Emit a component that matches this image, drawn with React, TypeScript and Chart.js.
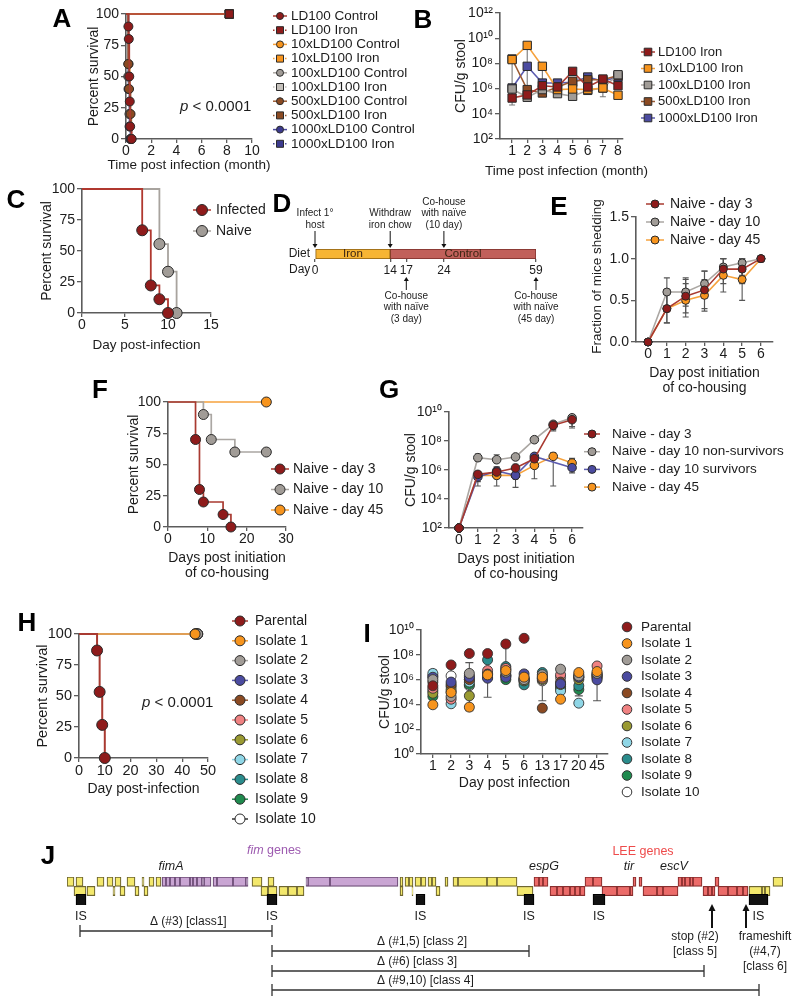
import React, { useEffect, useRef } from 'react';
import { Chart, registerables, LinearScale } from 'chart.js';

Chart.register(...registerables);

const W = 800;
const H = 1003;
const FONT = '"Liberation Sans", Arial, Helvetica, sans-serif';
const AXIS = '#5c5c5c';
const TXT = '#1c1c1c';
const EDGE = '#2a2a2a';

// ---------------- Panel A
const aGroups = ['LD100 Control', 'LD100 Iron', '10xLD100 Control', '10xLD100 Iron', '100xLD100 Control', '100xLD100 Iron', '500xLD100 Control', '500xLD100 Iron', '1000xLD100 Control', '1000xLD100 Iron'];
const aTime = [
  [0, 0.19, 0.22, 0.26, 0.3, 0.33, 0.45],
  [0, 8.2],
  [0, 0.2, 0.3, 0.4],
  [0, 8.2],
  [0, 0.18, 0.28, 0.38],
  [0, 8.2],
  [0, 0.18, 0.24, 0.36, 0.42],
  [0, 8.2],
  [0, 0.2, 0.28, 0.35],
  [0, 8.2],
];
const aSurv = [
  [100, 90, 80, 50, 30, 10, 0],
  [100, 100],
  [100, 60, 20, 0],
  [100, 100],
  [100, 50, 20, 0],
  [100, 100],
  [100, 60, 40, 20, 0],
  [100, 100],
  [100, 40, 10, 0],
  [100, 100],
];
const aTicksX = [0, 2, 4, 6, 8, 10];
const survTicks = [0, 25, 50, 75, 100];

// ---------------- Panel B (log10 CFU/g)
const bGroups = ['LD100 Iron', '10xLD100 Iron', '100xLD100 Iron', '500xLD100 Iron', '1000xLD100 Iron'];
const bMonths = [1, 2, 3, 4, 5, 6, 7, 8];
const bLogCfu = [
  [5.25, 5.5, 6.23, 6.13, 7.37, 6.13, 6.76, 6.23],
  [8.3, 9.43, 7.77, 5.92, 5.97, 5.92, 6.05, 5.47],
  [5.97, 5.31, 5.92, 5.6, 5.39, 5.86, 6.05, 7.1],
  [8.35, 5.92, 5.65, 6.13, 6.58, 6.7, 6.7, 7.03],
  [6.05, 7.77, 6.44, 6.44, 6.5, 6.92, 6.58, 6.92],
];
const bErrLo = [4.7, 5.3, 5.6, null, null, null, 5.35, 6.0];
const bErrHi = [8.4, 9.4, 7.7, null, null, null, 6.8, 7.2];
const bTicksY = [2, 4, 6, 8, 10, 12];

// ---------------- Panel C
const cGroups = ['Infected', 'Naive'];
const cTime = [[0, 7, 8, 9, 10], [0, 9, 10, 11]];
const cSurv = [[100, 66.7, 22.2, 11.1, 0], [100, 55.6, 33.3, 0]];
const cTicksX = [0, 5, 10, 15];

// ---------------- Panel D
const dDays = [0, 14, 17, 24, 59];
const dDiet = ['Iron', 'Control'];
const dDietSpan = [[0, 14], [14, 59]];
const dTopDays = [0, 14, 24];
const dTopText = [['Infect 1°', 'host'], ['Withdraw', 'iron chow'], ['Co-house', 'with naïve', '(10 day)']];
const dBotDays = [17, 59];
const dBotText = [['Co-house', 'with naïve', '(3 day)'], ['Co-house', 'with naïve', '(45 day)']];

// ---------------- Panel E
const eGroups = ['Naive - day 3', 'Naive - day 10', 'Naive - day 45'];
const eDays = [0, 1, 2, 3, 4, 5, 6];
const eFraction = [
  [0, 0.4, 0.55, 0.625, 0.875, 0.875, 1],
  [0, 0.6, 0.6, 0.7, 0.9, 0.95, 1],
  [0, 0.4, 0.5, 0.56, 0.8, 0.75, 1],
];
const eErrLo = [
  [null, 0.23, 0.35, 0.4, 0.7, 0.7, null],
  [null, 0.43, 0.43, 0.55, 0.78, 0.8, null],
  [null, 0.23, 0.3, 0.37, 0.6, 0.5, null],
];
const eErrHi = [
  [null, 0.57, 0.75, 0.85, 1.0, 1.0, null],
  [null, 0.77, 0.77, 0.85, 1.0, 1.0, null],
  [null, 0.57, 0.7, 0.75, 1.0, 1.0, null],
];
const eTicksY = [0, 0.5, 1, 1.5];

// ---------------- Panel F
const fGroups = ['Naive - day 3', 'Naive - day 10', 'Naive - day 45'];
const fTime = [[0, 7, 8, 9, 14, 16], [0, 9, 11, 17, 25], [0, 25]];
const fSurv = [[100, 70, 30, 20, 10, 0], [100, 90, 70, 60, 60], [100, 100]];
const fTicksX = [0, 10, 20, 30];

// ---------------- Panel G (log10 CFU/g)
const gGroups = ['Naive - day 3', 'Naive - day 10 non-survivors', 'Naive - day 10 survivors', 'Naive - day 45'];
const gDays = [0, 1, 2, 3, 4, 5, 6];
const gLogCfu = [
  [2, 5.7, 5.86, 6.14, 6.78, 9.08, 9.47],
  [2, 6.85, 6.71, 6.9, 8.09, 9.15, 9.6],
  [2, 5.52, 5.93, 5.63, 6.94, null, 6.16],
  [2, 5.63, 5.63, 5.63, 6.32, 6.94, 6.48],
];
const gErrLo = [
  [null, 4.9, 4.9, 4.8, 5.4, 8.7, 8.9],
  [null, 6.6, 6.5, 6.7, 7.9, 8.8, 9.0],
  [null, 5.2, 5.6, 5.4, 6.7, null, 5.8],
  [null, 5.4, 5.4, 5.4, 6.1, 4.9, 6.2],
];
const gErrHi = [
  [null, 5.9, 6.2, 6.4, 7.0, 9.3, 9.7],
  [null, 7.1, 7.05, 7.0, 8.3, 9.3, 9.8],
  [null, 5.8, 6.2, 5.9, 7.1, null, 6.4],
  [null, 5.9, 5.9, 5.9, 6.5, 7.2, 6.8],
];
const gTicksY = [2, 4, 6, 8, 10];

// ---------------- Panel H
const hGroups = ['Parental', 'Isolate 1', 'Isolate 2', 'Isolate 3', 'Isolate 4', 'Isolate 5', 'Isolate 6', 'Isolate 7', 'Isolate 8', 'Isolate 9', 'Isolate 10'];
const hParTime = [0, 7, 8, 9, 10];
const hParSurv = [100, 86.7, 53.3, 26.7, 0];
const hIsoEnd = [45, 46, 46, 45.5, 45, 45.5, 46, 45, 45.5, 46];
const hTicksX = [0, 10, 20, 30, 40, 50];

// ---------------- Panel I (log10 CFU/g)
const iDays = ['1', '2', '3', '4', '5', '6', '13', '17', '20', '45'];
const iLogCfu = [
  [5.5, 7.18, 8.1, 8.1, 8.87, 9.33, null, null, null, null],
  [3.97, 4.96, 3.78, 6.38, 6.73, 6.2, 6.2, 4.42, 6.57, 6.65],
  [6.0, 4.64, 6.5, 6.4, 6.6, 6.0, 6.4, 6.84, 6.3, 6.5],
  [6.19, 5.8, 6.19, 6.11, 6.19, 6.46, 6.3, 5.66, 6.19, 5.98],
  [5.8, 5.6, 6.0, 6.45, 6.3, 6.1, 3.7, 5.8, 6.4, 6.3],
  [5.3, 4.42, 6.3, 6.73, 6.9, 6.1, 6.1, 6.38, 6.2, 7.1],
  [4.9, 5.2, 4.69, 6.2, 6.4, 5.9, 6.0, 5.6, 6.0, 6.2],
  [6.5, 4.05, 5.8, 6.3, 6.8, 6.0, 6.2, 5.09, 4.1, 6.4],
  [5.1, 5.44, 6.0, 7.59, 7.05, 5.58, 6.57, 5.44, 5.5, 6.3],
  [4.64, 5.0, 5.6, 6.2, 6.0, 5.8, 6.1, 5.3, 5.2, 6.1],
  [6.3, 6.3, 5.5, 6.5, 6.3, 5.92, 5.9, 6.17, 6.2, 6.46],
];
const iErrLo = [4.8, 6.0, 3.5, 4.58, 5.8, null, 4.29, 4.37, 4.69, 4.3];
const iErrHi = [6.8, 7.3, 7.37, 6.5, 9.14, null, 6.6, 7.1, 6.6, 7.18];
const iTicksY = [0, 2, 4, 6, 8, 10];

// ---------------- Panel J (genome coordinate, kb)
const jYellowTop = [[0, 0.7], [0.9, 1.6], [3.0, 3.7], [4.0, 4.6], [4.8, 5.4], [6.0, 6.8], [7.5, 7.7], [8.2, 8.7], [8.9, 9.4], [18.5, 19.5], [20.1, 20.7], [33.3, 33.6], [33.8, 34.2], [34.2, 34.6], [34.8, 35.4], [35.4, 35.9], [36.1, 36.5], [36.5, 36.9], [37.8, 38.1], [38.6, 39.1], [39.1, 42.0], [42.0, 43.0], [43.0, 45.0], [70.6, 71.6]];
const jPurpleTop = [[9.5, 9.9], [9.9, 10.3], [10.3, 10.8], [10.8, 11.3], [11.3, 12.3], [12.3, 12.6], [12.6, 13.0], [13.0, 13.5], [13.5, 13.7], [13.7, 14.4], [14.6, 15.0], [15.0, 16.6], [16.6, 17.9], [17.9, 18.1], [23.9, 24.1], [24.1, 26.3], [26.3, 33.1]];
const jRedTop = [[46.7, 47.2], [47.2, 47.6], [47.6, 48.1], [51.8, 52.6], [52.6, 53.5], [56.6, 56.9], [57.2, 57.5], [61.1, 61.5], [61.5, 61.8], [61.8, 62.3], [62.3, 62.6], [62.6, 63.5], [64.8, 65.2]];
const jYellowBot = [[0.7, 1.9], [2.0, 2.8], [4.6, 4.8], [5.3, 5.8], [6.8, 7.2], [7.7, 8.1], [19.4, 20.1], [20.1, 21.0], [21.2, 22.1], [22.1, 23.0], [23.0, 23.7], [33.3, 33.6], [34.5, 34.6], [36.9, 37.3], [45.0, 46.6], [68.2, 69.5], [69.5, 69.8], [69.8, 70.3]];
const jRedBot = [[48.3, 49.0], [49.0, 49.6], [49.6, 50.3], [50.3, 50.8], [50.8, 51.3], [51.3, 51.8], [53.5, 55.0], [55.0, 56.3], [56.3, 56.6], [57.6, 59.0], [59.0, 59.6], [59.6, 61.1], [63.6, 64.1], [64.1, 64.5], [64.5, 64.8], [65.1, 66.1], [66.1, 67.0], [67.0, 67.6], [67.6, 68.1]];
const jIS = [[0.9, 1.9], [20.0, 21.0], [34.9, 35.8], [45.7, 46.7], [52.6, 53.8], [68.2, 70.1]];
const jGeneLabels = ['fimA', 'espG', 'tir', 'escV'];
const jGeneAt = [10.4, 47.7, 56.2, 60.7];
const jClusterAt = [20.7, 57.6];
const jDelStart = [1.3, 20.5, 20.5, 20.5];
const jDelEnd = [20.5, 46.2, 63.7, 69.2];
const jDelLabels = ['Δ (#3) [class1]', 'Δ (#1,5) [class 2]', 'Δ (#6) [class 3]', 'Δ (#9,10) [class 4]'];
const jDelLabelAt = [8.3, 31.0, 31.0, 31.0];
const jMutPos = [64.5, 67.9];
const jMutText = [['stop (#2)', '[class 5]'], ['frameshift', '(#4,7)', '[class 6]']];
const jMutTextAt = [62.8, 69.8];

// ---------------- palette
const RED = '#8E1B1B', RED_L = '#A93A31';
const ORANGE = '#F7941D', ORANGE_L = '#F6A23C';
const GRAY = '#A19C97', GRAY_L = '#ABA7A3';
const LGRAY = '#C4C0BB';
const BROWN = '#8B4A22', BROWN_L = '#9C5B33';
const NAVY = '#3C3A8E', NAVY_L = '#4C4AA0';
const aFill = [RED, RED, ORANGE, ORANGE, GRAY, LGRAY, BROWN, BROWN, NAVY, NAVY];
const aLine = [RED_L, RED_L, ORANGE_L, ORANGE_L, GRAY_L, LGRAY, BROWN_L, BROWN_L, NAVY_L, NAVY_L];
const bFill = [RED, ORANGE, GRAY, BROWN, '#4B4BA0'];
const bLine = [RED_L, ORANGE_L, GRAY_L, BROWN_L, '#5C5CB0'];
const eFill = [RED, GRAY, ORANGE];
const eLine = [RED_L, GRAY_L, ORANGE_L];
const gFill = [RED, GRAY, '#4B4BA0', ORANGE];
const gLine = [RED_L, GRAY_L, '#5C5CB0', ORANGE_L];
const iFill = ['#8E1B1B', '#F7941D', '#A19C97', '#4B4BA0', '#8B4A22', '#F08282', '#9A9A32', '#8FD6E6', '#2A8C8C', '#1F8A4E', '#FFFFFF'];
const hLine = ['#A93A31', '#F6A23C', '#ABA7A3', '#5C5CB0', '#9C5B33', '#F08282', '#9A9A32', '#8FD6E6', '#2A8C8C', '#1F8A4E', '#333333'];

// ---------------- helpers
const SUP = '⁰¹²³⁴⁵⁶⁷⁸⁹';
const pow10 = (v: number) => '10' + String(v).split('').map((c) => SUP[+c]).join('');

const brk = (d: number) => (d <= 24 ? d : 24 + (d - 24) * 0.49);
class BrokenScale extends LinearScale {
  static id = 'broken';
  static defaults = LinearScale.defaults;
  getPixelForValue(v: any) {
    return super.getPixelForValue(v == null ? v : brk(v));
  }
}
Chart.register(BrokenScale as any);

function geo(x0: number, x1: number, y0: number, y1: number, yW = 50, xH = 40) {
  return { x0, x1, y0, y1, padL: x0 - yW, padB: H - y1 - xH, yW, xH };
}

function scale(o: any) {
  const isY = o.pos === 'left';
  return {
    type: o.type || 'linear',
    position: o.pos,
    display: o.display !== false,
    min: o.min,
    max: o.max,
    afterBuildTicks: o.ticks ? (s: any) => { s.ticks = o.ticks.map((v: number) => ({ value: v })); } : undefined,
    afterFit: (s: any) => { if (isY) s.width = o.size; else s.height = o.size; },
    grid: { display: o.tickMarks !== false, drawOnChartArea: false, drawTicks: true, tickLength: o.tickLen ?? (isY ? 5 : 4), color: AXIS, lineWidth: 1.3 },
    border: { display: o.border !== false, color: AXIS, width: 1.6 },
    ticks: {
      display: true, color: TXT, font: { family: FONT, size: o.tickSize ?? 14 },
      padding: o.pad ?? (isY ? 2 : 0), callback: o.fmt || ((v: any) => String(v)),
      maxRotation: 0, minRotation: 0, autoSkip: false,
    },
    title: { display: false },
  };
}

function base(g: any, scales: any, extra: any = {}) {
  return {
    responsive: false,
    animation: false,
    devicePixelRatio: 1,
    events: [],
    layout: { padding: { left: g.padL, top: g.y0, right: W - g.x1, bottom: g.padB } },
    plugins: { legend: { display: false }, tooltip: { enabled: false }, title: { display: false } },
    scales,
    ...extra,
  };
}

function km(label: string, t: number[], s: number[], line: string, fill: string, o: any = {}) {
  return {
    type: 'line',
    label,
    data: t.map((x, i) => ({ x, y: s[i] })),
    stepped: true,
    borderColor: line,
    borderWidth: o.bw ?? 1.7,
    pointRadius: t.map((_, i) => (i === 0 ? 0 : o.r ?? 4.5)),
    pointStyle: o.style || 'circle',
    pointBackgroundColor: fill,
    pointBorderColor: o.edge || EDGE,
    pointBorderWidth: 1,
    fill: false,
    clip: false,
    tension: 0,
  };
}

function series(label: string, xs: number[], ys: (number | null)[], line: string, fill: string, o: any = {}) {
  return {
    type: 'line',
    label,
    data: xs.map((x, i) => ({ x, y: ys[i] })),
    borderColor: line,
    borderWidth: o.bw ?? 1.6,
    showLine: o.showLine !== false,
    pointRadius: o.r ?? 4,
    pointStyle: o.style || 'circle',
    pointBackgroundColor: fill,
    pointBorderColor: o.edge || EDGE,
    pointBorderWidth: o.ew ?? 1,
    spanGaps: true,
    fill: false,
    clip: false,
    tension: 0,
  };
}

function marker(ctx: CanvasRenderingContext2D, style: string, x: number, y: number, r: number, fill: string, edge: string) {
  ctx.beginPath();
  if (style === 'rect') ctx.rect(x - r, y - r, 2 * r, 2 * r);
  else ctx.arc(x, y, r, 0, Math.PI * 2);
  ctx.fillStyle = fill;
  ctx.fill();
  ctx.lineWidth = 1;
  ctx.strokeStyle = edge;
  ctx.stroke();
}

function legendPlugin(items: any[], o: any) {
  return {
    id: 'plegend',
    afterDatasetsDraw(chart: any) {
      const ctx = chart.ctx as CanvasRenderingContext2D;
      items.forEach((it, i) => {
        const y = o.y + i * o.dy;
        ctx.save();
        if (it.line && o.half > 0) {
          ctx.strokeStyle = it.line;
          ctx.lineWidth = 1.5;
          ctx.setLineDash(it.dash || []);
          ctx.beginPath();
          ctx.moveTo(o.x - o.half, y);
          ctx.lineTo(o.x + o.half, y);
          ctx.stroke();
          ctx.setLineDash([]);
        }
        marker(ctx, it.style || 'circle', o.x, y, o.r, it.fill, it.edge || EDGE);
        ctx.fillStyle = TXT;
        ctx.font = `${o.size}px ${FONT}`;
        ctx.textAlign = 'left';
        ctx.textBaseline = 'middle';
        ctx.fillText(it.label, o.tx, y);
        ctx.restore();
      });
    },
  };
}

function drawSegs(ctx: CanvasRenderingContext2D, segs: any[], x: number, y: number, size: number, align: string, color: string) {
  const f = (it: boolean) => `${it ? 'italic ' : ''}${size}px ${FONT}`;
  let total = 0;
  segs.forEach((s) => { ctx.font = f(!!s.i); total += ctx.measureText(s.t).width; });
  let cx = align === 'center' ? x - total / 2 : align === 'right' ? x - total : x;
  ctx.fillStyle = color;
  ctx.textBaseline = 'middle';
  ctx.textAlign = 'left';
  segs.forEach((s) => { ctx.font = f(!!s.i); ctx.fillText(s.t, cx, y); cx += ctx.measureText(s.t).width; });
}

function txt(ctx: CanvasRenderingContext2D, s: string, x: number, y: number, size: number, align = 'center', color = TXT, italic = false) {
  drawSegs(ctx, [{ t: s, i: italic }], x, y, size, align, color);
}

function textPlugin(items: any[]) {
  return {
    id: 'ptext',
    afterDraw(chart: any) {
      const ctx = chart.ctx;
      ctx.save();
      items.forEach((it) => drawSegs(ctx, it.segs, it.x, it.y, it.size, it.align || 'left', it.color || TXT));
      ctx.restore();
    },
  };
}

// axis titles centred on the plot area, drawn without width squeezing
function titlePlugin(t: any) {
  return {
    id: 'ptitle',
    afterDraw(chart: any) {
      const ctx = chart.ctx as CanvasRenderingContext2D;
      const a = chart.chartArea;
      ctx.save();
      ctx.fillStyle = TXT;
      ctx.textAlign = 'center';
      ctx.textBaseline = 'middle';
      if (t.x) {
        ctx.font = `${t.x.size}px ${FONT}`;
        const cx = (a.left + a.right) / 2 + (t.x.dx || 0);
        t.x.lines.forEach((ln: string, i: number) => ctx.fillText(ln, cx, t.x.y + i * (t.x.lh || 15)));
      }
      if (t.y) {
        ctx.translate(t.y.x, (a.top + a.bottom) / 2 + (t.y.dy || 0));
        ctx.rotate(-Math.PI / 2);
        ctx.font = `${t.y.size}px ${FONT}`;
        ctx.fillText(t.y.text, 0, 0);
      }
      ctx.restore();
    },
  };
}

function errorPlugin(errs: any[], color = '#4a4a4a', cap = 3) {
  return {
    id: 'perr',
    beforeDatasetsDraw(chart: any) {
      const { ctx, scales } = chart;
      const xs = scales.x, ys = scales.y;
      ctx.save();
      ctx.strokeStyle = color;
      ctx.lineWidth = 1.1;
      errs.forEach((e) => {
        const px = xs.getPixelForValue(e.x), a = ys.getPixelForValue(e.lo), b = ys.getPixelForValue(e.hi);
        ctx.beginPath();
        ctx.moveTo(px, a); ctx.lineTo(px, b);
        ctx.moveTo(px - cap, a); ctx.lineTo(px + cap, a);
        ctx.moveTo(px - cap, b); ctx.lineTo(px + cap, b);
        ctx.stroke();
      });
      ctx.restore();
    },
  };
}

function arrow(ctx: CanvasRenderingContext2D, x: number, y1: number, y2: number, head = 4, w = 2.5, lw = 1) {
  const dir = Math.sign(y2 - y1);
  ctx.lineWidth = lw;
  ctx.beginPath();
  ctx.moveTo(x, y1);
  ctx.lineTo(x, y2 - dir * head * 0.8);
  ctx.stroke();
  ctx.beginPath();
  ctx.moveTo(x, y2);
  ctx.lineTo(x - w, y2 - dir * head);
  ctx.lineTo(x + w, y2 - dir * head);
  ctx.closePath();
  ctx.fill();
}

// ---------------- charts
function mkA() {
  const g = geo(126, 252, 14, 139);
  const order = [0, 6, 1, 8, 4, 2, 3, 5, 7, 9];
  const datasets = order.map((i) => km(aGroups[i], aTime[i], aSurv[i], aLine[i], aFill[i], { style: i % 2 ? 'rect' : 'circle', r: i % 2 ? 5.8 : 4.5 }));
  const items = aGroups.map((l, i) => ({ label: l, fill: aFill[i], line: aLine[i], style: i % 2 ? 'rect' : 'circle', dash: i % 2 ? [1.5, 2.5] : undefined }));
  return {
    type: 'line',
    data: { datasets },
    options: base(g, {
      x: scale({ pos: 'bottom', min: 0, max: 10, ticks: aTicksX, size: g.xH }),
      y: scale({ pos: 'left', min: 0, max: 100, ticks: survTicks, size: g.yW }),
    }),
    plugins: [
      titlePlugin({ x: { lines: ['Time post infection (month)'], y: 165, size: 13.5 }, y: { text: 'Percent survival', x: 94, size: 14 } }),
      legendPlugin(items, { x: 280, tx: 291, y: 16, dy: 14.2, size: 13.5, r: 3.5, half: 7 }),
      textPlugin([{ segs: [{ t: 'p', i: true }, { t: ' < 0.0001' }], x: 180, y: 107, size: 15 }]),
    ],
  };
}

function mkB() {
  const g = geo(500, 623, 13, 139);
  const datasets = bGroups.map((n, k) => series(n, bMonths, bLogCfu[k], bLine[k], bFill[k], { style: 'rect', r: 5.9 }));
  const errs = bMonths.map((m, i) => ({ x: m, lo: bErrLo[i], hi: bErrHi[i] })).filter((e) => e.lo != null);
  const items = bGroups.map((l, k) => ({ label: l, fill: bFill[k], line: bLine[k], style: 'rect' }));
  return {
    type: 'line',
    data: { datasets },
    options: base(g, {
      x: scale({ pos: 'bottom', min: 0.2, max: 8.33, ticks: bMonths, size: g.xH }),
      y: scale({ pos: 'left', min: 2, max: 12, ticks: bTicksY, size: g.yW, fmt: (v: number) => pow10(v) }),
    }),
    plugins: [
      titlePlugin({ x: { lines: ['Time post infection (month)'], y: 171, size: 13.5, dx: 5 }, y: { text: 'CFU/g stool', x: 461, size: 14 } }),
      errorPlugin(errs, '#7a7a7a', 3),
      legendPlugin(items, { x: 648, tx: 658, y: 52, dy: 16.5, size: 13, r: 3.8, half: 7 }),
    ],
  };
}

function mkC() {
  const g = geo(82, 211, 189, 313);
  const fills = [RED, GRAY];
  const lines = ['#B0382F', '#A8A39E'];
  const datasets = cGroups.map((n, k) => km(n, cTime[k], cSurv[k], lines[k], fills[k], { r: 5.5, bw: 1.8 }));
  const items = cGroups.map((l, k) => ({ label: l, fill: fills[k], line: lines[k] }));
  return {
    type: 'line',
    data: { datasets },
    options: base(g, {
      x: scale({ pos: 'bottom', min: 0, max: 15, ticks: cTicksX, size: g.xH }),
      y: scale({ pos: 'left', min: 0, max: 100, ticks: survTicks, size: g.yW }),
    }),
    plugins: [
      titlePlugin({ x: { lines: ['Day post-infection'], y: 345, size: 13.5 }, y: { text: 'Percent survival', x: 47, size: 14 } }),
      legendPlugin(items, { x: 202, tx: 216, y: 210, dy: 21, size: 14, r: 5.5, half: 9 }),
    ],
  };
}

function mkD() {
  const g = { x0: 315, x1: 536, y0: 249, y1: 259, padL: 250, padB: H - 259 - 25 };
  const bg = ['#F7B534', '#C1605A'];
  const bd = ['#8a5e10', '#7a2e2a'];
  const datasets = dDiet.map((n, k) => ({
    type: 'bar', label: n,
    data: [{ x: dDietSpan[k], y: 'Diet' }],
    backgroundColor: bg[k], borderColor: bd[k], borderWidth: 1, borderSkipped: false,
    grouped: false, barPercentage: 1, categoryPercentage: 1,
  }));
  const diag = {
    id: 'dDiag',
    afterDraw(chart: any) {
      const ctx = chart.ctx as CanvasRenderingContext2D;
      const xs = chart.scales.x;
      const top = chart.chartArea.top;
      ctx.save();
      ctx.strokeStyle = '#111';
      dTopDays.forEach((d, i) => {
        const x = xs.getPixelForValue(d);
        ctx.fillStyle = '#111';
        arrow(ctx, x, top - 18, top - 1);
        const lines = dTopText[i];
        lines.forEach((ln, j) => txt(ctx, ln, x, 225 - (lines.length - 1 - j) * 11.5, 10));
      });
      dBotDays.forEach((d, i) => {
        const x = xs.getPixelForValue(d);
        ctx.fillStyle = '#111';
        arrow(ctx, x, 290, 277);
        dBotText[i].forEach((ln, j) => txt(ctx, ln, x, 296 + j * 11.5, 10));
      });
      dDiet.forEach((n, k) => {
        const el = chart.getDatasetMeta(k).data[0];
        txt(ctx, n, (el.x + el.base) / 2, el.y, 11.5, 'center', '#3b2412');
      });
      txt(ctx, 'Day', 289, 270, 12, 'left');
      ctx.restore();
    },
  };
  return {
    type: 'bar',
    data: { labels: ['Diet'], datasets },
    options: base(g, {
      x: scale({ type: 'broken', pos: 'bottom', min: 0, max: brk(59), ticks: dDays, size: 25, tickSize: 12, tickLen: 3, pad: 1, border: false }),
      y: scale({ type: 'category', pos: 'left', size: g.x0 - g.padL, tickSize: 12, tickMarks: false, tickLen: 0, pad: 5, border: false, fmt: () => 'Diet' }),
    }, { indexAxis: 'y' }),
    plugins: [diag],
  };
}

function mkE() {
  const g = geo(636, 773, 217, 342);
  const datasets = eGroups.map((n, k) => series(n, eDays, eFraction[k], eLine[k], eFill[k], { r: 4 }));
  const errs = eGroups.flatMap((_, k) => eDays.map((d, i) => ({ x: d, lo: eErrLo[k][i], hi: eErrHi[k][i] })).filter((e) => e.lo != null));
  const items = eGroups.map((l, k) => ({ label: l, fill: eFill[k], line: eLine[k] }));
  return {
    type: 'line',
    data: { datasets },
    options: base(g, {
      x: scale({ pos: 'bottom', min: -0.64, max: 6.64, ticks: eDays, size: g.xH }),
      y: scale({ pos: 'left', min: 0, max: 1.5, ticks: eTicksY, size: g.yW, fmt: (v: number) => v.toFixed(1) }),
    }),
    plugins: [
      titlePlugin({ x: { lines: ['Day post initiation', 'of co-housing'], y: 373, size: 14, lh: 15 }, y: { text: 'Fraction of mice shedding', x: 597, size: 13.5, dy: -3 } }),
      errorPlugin(errs, '#555', 3),
      legendPlugin(items, { x: 655, tx: 670, y: 204, dy: 18, size: 14, r: 4, half: 9 }),
    ],
  };
}

function mkF() {
  const g = geo(168, 286, 402, 527);
  const datasets = fGroups.map((n, k) => km(n, fTime[k], fSurv[k], eLine[k], eFill[k], { r: 5 }));
  const items = fGroups.map((l, k) => ({ label: l, fill: eFill[k], line: eLine[k] }));
  return {
    type: 'line',
    data: { datasets },
    options: base(g, {
      x: scale({ pos: 'bottom', min: 0, max: 30, ticks: fTicksX, size: g.xH }),
      y: scale({ pos: 'left', min: 0, max: 100, ticks: survTicks, size: g.yW }),
    }),
    plugins: [
      titlePlugin({ x: { lines: ['Days post initiation', 'of co-housing'], y: 558, size: 14, lh: 15 }, y: { text: 'Percent survival', x: 134, size: 14 } }),
      legendPlugin(items, { x: 280, tx: 293, y: 469, dy: 20.5, size: 14, r: 5, half: 9 }),
    ],
  };
}

function mkG() {
  const g = geo(449, 583, 412, 528);
  const datasets = gGroups.map((n, k) => series(n, gDays, gLogCfu[k], gLine[k], gFill[k], { r: 4.3 }));
  const errs = gGroups.flatMap((_, k) => gDays.map((d, i) => ({ x: d, lo: gErrLo[k][i], hi: gErrHi[k][i] })).filter((e) => e.lo != null));
  const items = gGroups.map((l, k) => ({ label: l, fill: gFill[k], line: gLine[k] }));
  return {
    type: 'line',
    data: { datasets },
    options: base(g, {
      x: scale({ pos: 'bottom', min: -0.53, max: 6.58, ticks: gDays, size: g.xH }),
      y: scale({ pos: 'left', min: 2, max: 10, ticks: gTicksY, size: g.yW, fmt: (v: number) => pow10(v) }),
    }),
    plugins: [
      titlePlugin({ x: { lines: ['Days post initiation', 'of co-housing'], y: 559, size: 14, lh: 15 }, y: { text: 'CFU/g stool', x: 411, size: 14 } }),
      errorPlugin(errs, '#555', 3),
      legendPlugin(items, { x: 592, tx: 612, y: 434, dy: 17.7, size: 13.5, r: 4, half: 8 }),
    ],
  };
}

function mkH() {
  const g = geo(79, 208, 634, 758);
  const datasets: any[] = [km(hGroups[0], hParTime, hParSurv, hLine[0], iFill[0], { r: 5.5, bw: 2 })];
  hIsoEnd.forEach((end, j) => {
    const k = j + 1;
    datasets.push(km(hGroups[k], [0, end], [100, 100], hLine[k], iFill[k], { r: 5 }));
  });
  const items = hGroups.map((l, k) => ({ label: l, fill: iFill[k], line: hLine[k] }));
  return {
    type: 'line',
    data: { datasets },
    options: base(g, {
      x: scale({ pos: 'bottom', min: 0, max: 50, ticks: hTicksX, size: g.xH, tickSize: 14.5 }),
      y: scale({ pos: 'left', min: 0, max: 100, ticks: survTicks, size: g.yW, tickSize: 14.5 }),
    }),
    plugins: [
      titlePlugin({ x: { lines: ['Day post-infection'], y: 789, size: 14 }, y: { text: 'Percent survival', x: 43, size: 14.5 } }),
      legendPlugin(items, { x: 240, tx: 255, y: 621, dy: 19.8, size: 14, r: 5, half: 8 }),
      textPlugin([{ segs: [{ t: 'p', i: true }, { t: ' < 0.0001' }], x: 142, y: 703, size: 15 }]),
    ],
  };
}

function mkI() {
  const g = geo(421, 608, 630, 754);
  const idx = iDays.map((_, i) => i);
  const datasets = hGroups.map((n, k) => series(n, idx, iLogCfu[k], iFill[k], iFill[k], { r: 5, showLine: false, edge: '#333', ew: 0.9 }));
  const errs = idx.map((i) => ({ x: i, lo: iErrLo[i], hi: iErrHi[i] })).filter((e) => e.lo != null);
  const items = hGroups.map((l, k) => ({ label: l, fill: iFill[k], edge: '#333' }));
  return {
    type: 'line',
    data: { datasets },
    options: base(g, {
      x: scale({ pos: 'bottom', min: -0.65, max: 9.6, ticks: idx, size: g.xH, fmt: (v: number) => iDays[v] }),
      y: scale({ pos: 'left', min: 0, max: 10, ticks: iTicksY, size: g.yW, fmt: (v: number) => pow10(v) }),
    }),
    plugins: [
      titlePlugin({ x: { lines: ['Day post infection'], y: 783, size: 14 }, y: { text: 'CFU/g stool', x: 385, size: 14 } }),
      errorPlugin(errs, '#555', 4),
      legendPlugin(items, { x: 627, tx: 641, y: 627, dy: 16.5, size: 13.5, r: 4.8, half: 0 }),
    ],
  };
}

function mkJ() {
  const g = { x0: 67, x1: 783, y0: 877, y1: 905, padL: 67, padB: H - 905 };
  const row = (spans: number[][], y: string, bg: string, bd: string, thick?: number) => ({
    type: 'bar',
    data: spans.map(([s, e]) => ({ x: [s, e], y })),
    backgroundColor: bg, borderColor: bd, borderWidth: 1.2, borderSkipped: false,
    grouped: false, barPercentage: 1, categoryPercentage: 1,
    ...(thick ? { barThickness: thick } : {}),
  });
  const datasets = [
    row(jIS, 'IS', '#121212', '#000000', 12),
    row(jYellowTop, 'top', '#F3E86C', '#6e6630'),
    row(jPurpleTop, 'top', '#C9A5D3', '#6b4b75'),
    row(jRedTop, 'top', '#EC6B69', '#8a2e2e'),
    row(jYellowBot, 'bot', '#F3E86C', '#6e6630'),
    row(jRedBot, 'bot', '#EC6B69', '#8a2e2e'),
  ];
  const diag = {
    id: 'jDiag',
    afterDraw(chart: any) {
      const ctx = chart.ctx as CanvasRenderingContext2D;
      const xs = chart.scales.x;
      const px = (v: number) => xs.getPixelForValue(v);
      ctx.save();
      drawSegs(ctx, [{ t: 'fim', i: true }, { t: ' genes' }], px(jClusterAt[0]), 851, 12.5, 'center', '#9D5BB0');
      drawSegs(ctx, [{ t: 'LEE genes' }], px(jClusterAt[1]), 852, 12.5, 'center', '#EE4B4B');
      jGeneLabels.forEach((gl, i) => txt(ctx, gl, px(jGeneAt[i]), 867, 12.5, 'center', TXT, true));
      jIS.forEach(([s, e]) => txt(ctx, 'IS', px((s + e) / 2), 917, 12.5));
      const delY = [931, 951, 971, 990];
      ctx.strokeStyle = '#333';
      ctx.lineWidth = 1.3;
      jDelStart.forEach((s, i) => {
        const y = delY[i];
        const a = px(s), b = px(jDelEnd[i]);
        ctx.beginPath();
        ctx.moveTo(a, y); ctx.lineTo(b, y);
        ctx.moveTo(a, y - 6); ctx.lineTo(a, y + 6);
        ctx.moveTo(b, y - 6); ctx.lineTo(b, y + 6);
        ctx.stroke();
        txt(ctx, jDelLabels[i], px(jDelLabelAt[i]), y - 9, 12, 'left');
      });
      ctx.strokeStyle = '#111';
      jMutPos.forEach((m, i) => {
        ctx.fillStyle = '#111';
        arrow(ctx, px(m), 928, 904, 7, 3.5, 2);
        jMutText[i].forEach((ln, j) => txt(ctx, ln, px(jMutTextAt[i]), 937 + j * 15, 12));
      });
      ctx.restore();
    },
  };
  return {
    type: 'bar',
    data: { labels: ['top', 'bot', 'IS'], datasets },
    options: base(g, {
      x: { type: 'linear', display: false, min: 0, max: 71.6 },
      y: { type: 'category', display: false },
    }, { indexAxis: 'y' }),
    plugins: [diag],
  };
}

const CONFIGS = [mkA, mkB, mkC, mkD, mkE, mkF, mkG, mkH, mkI, mkJ];

const LETTERS = [
  { t: 'A', x: 62, y: 18 }, { t: 'B', x: 423, y: 19 }, { t: 'C', x: 16, y: 199 },
  { t: 'D', x: 282, y: 203 }, { t: 'E', x: 559, y: 206 }, { t: 'F', x: 100, y: 389 },
  { t: 'G', x: 389, y: 389 }, { t: 'H', x: 27, y: 622 }, { t: 'I', x: 367, y: 633 },
  { t: 'J', x: 48, y: 855 },
];

export default function App() {
  const refs = useRef<(HTMLCanvasElement | null)[]>([]);
  useEffect(() => {
    const charts = CONFIGS.map((mk, i) => new Chart(refs.current[i] as HTMLCanvasElement, mk() as any));
    return () => charts.forEach((c) => c.destroy());
  }, []);
  return (
    <div style={{ position: 'absolute', left: 0, top: 0, width: W, height: H, background: '#fff', overflow: 'hidden' }}>
      {CONFIGS.map((_, i) => (
        <canvas
          key={i}
          ref={(el) => { refs.current[i] = el; }}
          width={W}
          height={H}
          style={{ position: 'absolute', left: 0, top: 0, width: W, height: H }}
        />
      ))}
      {LETTERS.map((l) => (
        <div
          key={l.t}
          style={{
            position: 'absolute', left: l.x, top: l.y - 13.5, transform: 'translateX(-50%)',
            font: `bold 26px ${FONT}`, lineHeight: '26px', color: '#000',
          }}
        >
          {l.t}
        </div>
      ))}
    </div>
  );
}
